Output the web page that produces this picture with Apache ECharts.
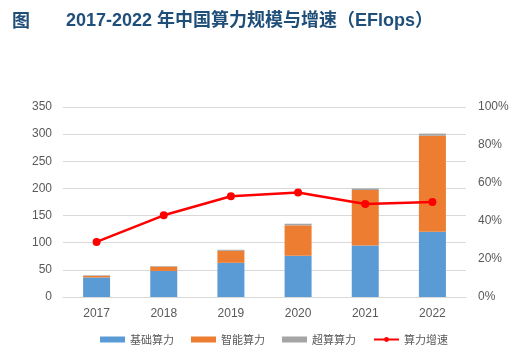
<!DOCTYPE html>
<html>
<head>
<meta charset="utf-8">
<script src="https://cdn.jsdelivr.net/npm/echarts@6/dist/echarts.min.js"></script>
<style>html,body{margin:0;padding:0;background:#fff;}#c{width:513px;height:356px;}</style>
</head>
<body>
<div id="c"></div>
<script>
var categories = ['2017', '2018', '2019', '2020', '2021', '2022'];
var basicPower = [36, 48, 63, 76, 95, 120];
var aiPower = [3, 8, 22, 56, 102, 177];
var superPower = [1, 1, 2, 3, 3, 4];
var growthRate = [29, 43, 53, 55, 49, 50];
var leftTicks = [0, 350, 50];
var rightTicks = [0, 100, 20];

var chart = echarts.init(document.getElementById('c'));
var lbl = {color: '#595959', fontSize: 12, fontFamily: 'Liberation Sans, Noto Sans CJK SC'};
chart.setOption({
  animation: false,
  title: [
    {text: '图', left: 7, top: 6, textStyle: {color: '#1F4E79', fontSize: 18, fontWeight: 'bold', fontFamily: 'Noto Sans CJK SC'}},
    {text: '2017-2022 年中国算力规模与增速（EFlops）', left: 61, top: 7, textStyle: {color: '#1F4E79', fontSize: 18, fontWeight: 'bold', fontFamily: 'Liberation Sans, Noto Sans CJK SC'}}
  ],
  grid: {left: 63, right: 47, top: 107, bottom: 59},
  legend: {
    bottom: 6, left: 95, itemWidth: 25, itemHeight: 6, itemGap: 17,
    textStyle: {color: '#595959', fontSize: 11, fontFamily: 'Noto Sans CJK SC'},
    data: [
      {name: '基础算力', icon: 'rect'},
      {name: '智能算力', icon: 'rect'},
      {name: '超算算力', icon: 'rect'},
      {name: '算力增速'}
    ]
  },
  xAxis: {
    type: 'category', data: categories,
    axisLine: {lineStyle: {color: '#D9D9D9'}}, axisTick: {show: false},
    axisLabel: Object.assign({margin: 11}, lbl)
  },
  yAxis: [
    {type: 'value', min: leftTicks[0], max: leftTicks[1], interval: leftTicks[2],
     axisLine: {show: false}, axisTick: {show: false},
     splitLine: {lineStyle: {color: '#D9D9D9'}},
     axisLabel: Object.assign({margin: 11}, lbl)},
    {type: 'value', min: rightTicks[0], max: rightTicks[1], interval: rightTicks[2],
     axisLine: {show: false}, axisTick: {show: false}, splitLine: {show: false},
     axisLabel: Object.assign({margin: 12, formatter: '{value}%'}, lbl)}
  ],
  series: [
    {name: '基础算力', type: 'bar', stack: 'a', data: basicPower, barWidth: 27, itemStyle: {color: '#5B9BD5'}},
    {name: '智能算力', type: 'bar', stack: 'a', data: aiPower, itemStyle: {color: '#ED7D31'}},
    {name: '超算算力', type: 'bar', stack: 'a', data: superPower, itemStyle: {color: '#A5A5A5'}},
    {name: '算力增速', type: 'line', yAxisIndex: 1, data: growthRate,
     symbol: 'circle', symbolSize: 8, lineStyle: {color: '#FF0000', width: 2.5},
     itemStyle: {color: '#FF0000'}}
  ]
});
</script>
</body>
</html>
